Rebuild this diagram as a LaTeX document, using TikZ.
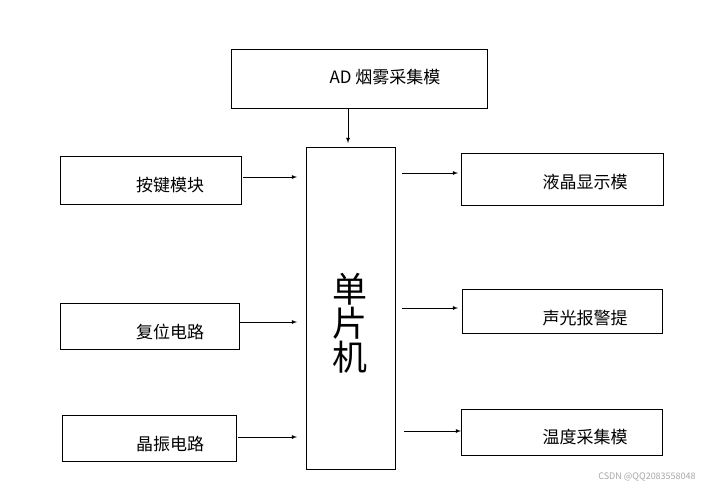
\documentclass[tikz,border=0pt]{standalone}
\usepackage{fontspec}
\setmainfont{Noto Sans CJK SC}
\begin{document}
\begin{tikzpicture}[x=1pt,y=-1pt,
  box/.style={draw,line width=0.8pt},
  lab/.style={font=\fontsize{17}{20}\selectfont},
  arr/.style={->,>=latex,line width=0.8pt}]
\useasboundingbox (0,0) rectangle (728,490);
\node[box,minimum width=256pt,minimum height=59pt] (ad) at (359,78.5) {};
\node[lab] (adt) at (385,77) {AD 烟雾采集模};
\node[box,minimum width=89pt,minimum height=322pt] (mcu) at (350.5,308) {};
\node[font=\fontsize{35}{38}\selectfont,align=center] (mcut) at (350,323) {单\\[-4pt]片\\[-4pt]机};
\node[box,minimum width=181pt,minimum height=48pt] (k) at (150.5,180) {};
\node[lab] (kt) at (170,185) {按键模块};
\node[box,minimum width=179pt,minimum height=46pt] (r) at (149.5,326) {};
\node[lab] (rt) at (170,332) {复位电路};
\node[box,minimum width=174pt,minimum height=46pt] (c) at (149,438) {};
\node[lab] (ct) at (170,444) {晶振电路};
\node[box,minimum width=202pt,minimum height=52pt] (l) at (562,179) {};
\node[lab] (lt) at (585,182) {液晶显示模};
\node[box,minimum width=200pt,minimum height=44pt] (s) at (562,311) {};
\node[lab] (st) at (585,318) {声光报警提};
\node[box,minimum width=201pt,minimum height=46pt] (t) at (561.5,432) {};
\node[lab] (tt) at (585,437) {温度采集模};
\coordinate (a1) at (348,108); \coordinate (a2) at (348,143);
\draw[arr] (a1) -- (a2);
\coordinate (k1) at (243,177); \coordinate (k2) at (297,177); \draw[arr] (k1)--(k2);
\coordinate (r1) at (240,322); \coordinate (r2) at (297,322); \draw[arr] (r1)--(r2);
\coordinate (c1) at (238,437); \coordinate (c2) at (297,437); \draw[arr] (c1)--(c2);
\coordinate (l1) at (402,173); \coordinate (l2) at (458,173); \draw[arr] (l1)--(l2);
\coordinate (s1) at (402,308); \coordinate (s2) at (458,308); \draw[arr] (s1)--(s2);
\coordinate (t1) at (404,431); \coordinate (t2) at (461,431); \draw[arr] (t1)--(t2);
\node[text=gray!70,font=\fontsize{9}{10}\selectfont] (wm) at (647,477) {CSDN @QQ2083558048};
\end{tikzpicture}
\end{document}
